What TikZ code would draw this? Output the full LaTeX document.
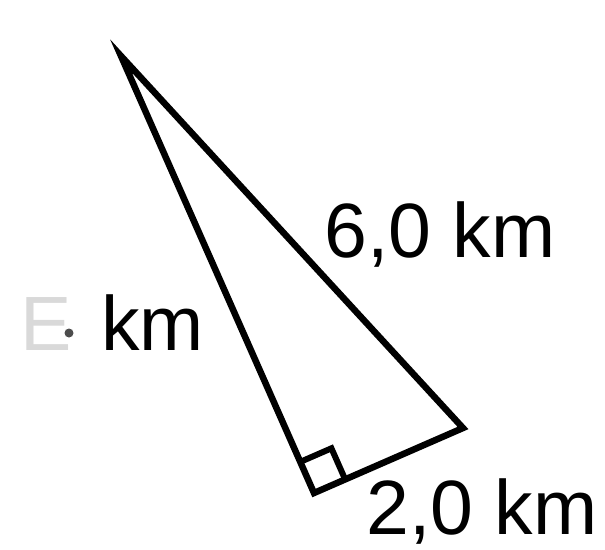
\documentclass[tikz,border=0pt]{standalone}
\usepackage{fontspec}
\setmainfont{Liberation Sans}
\usetikzlibrary{calc}
\begin{document}
\begin{tikzpicture}[x=1pt,y=-1pt,
  edge/.style={line width=6.5pt,line join=miter,line cap=round},
  lbl/.style={inner sep=0pt,anchor=base west,font=\fontsize{77}{77}\selectfont}]
\useasboundingbox (0,0) rectangle (605,549);
\coordinate (A) at (121,56);
\coordinate (B) at (463,428);
\coordinate (C) at (314,493);
\draw[edge] (A) -- (B) -- (C) -- cycle;
\coordinate (P) at ($(C)!34pt!(A)$);
\coordinate (Q) at ($(C)!34pt!(B)$);
\draw[line width=6pt] (P) -- ($(P)+(Q)-(C)$) -- (Q);
\node[lbl] (t1) at (324,257) {6,0 km};
\node[lbl] (t2) at (101,350) {km};
\node[lbl] (t3) at (366,534) {2,0 km};
\node[lbl,text=black!15] (t4) at (20,350) {E};
\fill[black!70] (69,333) circle (4.5);
\end{tikzpicture}
\end{document}
